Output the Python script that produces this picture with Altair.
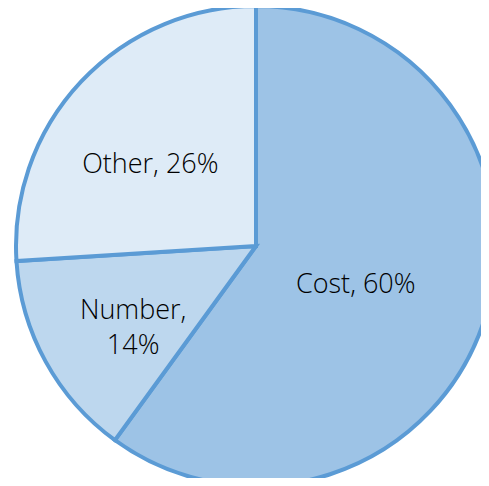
import altair as alt
import pandas as pd

categories = ["Cost", "Number", "Other"]
values = [60, 14, 26]
labels = ["Cost, 60%", "Number,\n14%", "Other, 26%"]
colors = ["#9DC3E6", "#BDD7EE", "#DEEBF7"]

df = pd.DataFrame({"category": categories, "value": values, "label": labels,
                   "idx": list(range(len(categories)))})

base = alt.Chart(df)

arcs = base.mark_arc(outerRadius=240, stroke="#5B9BD5", strokeWidth=4).encode(
    theta=alt.Theta("value:Q", stack=True),
    order=alt.Order("idx:Q"),
    color=alt.Color("category:N", scale=alt.Scale(domain=categories, range=colors), legend=None),
    x=alt.value(248),
    y=alt.value(238),
)

text_base = base.transform_window(
    cum="sum(value)", sort=[alt.SortField("idx")]
).transform_calculate(
    mid="datum.cum - datum.value / 2",
)

label_style = {
    "Cost": dict(radius=107, dx=-2, dy=6),
    "Number": dict(radius=147, dx=6, dy=-6),
    "Other": dict(radius=134, dx=-8, dy=11),
}

layers = [arcs]
for cat in categories:
    st = label_style[cat]
    layers.append(
        text_base.transform_filter(alt.datum.category == cat).mark_text(
            font="Open Sans", fontSize=27, fontWeight=300, color="#000000",
            lineBreak="\n", align="center", baseline="middle", lineHeight=35,
            radius=st["radius"], dx=st["dx"], dy=st["dy"],
        ).encode(
            theta=alt.Theta("mid:Q", stack=None),
            text="label:N",
            x=alt.value(248),
            y=alt.value(238),
        )
    )

chart = alt.layer(*layers).properties(
    width=473, height=470, padding=0,
    autosize=alt.AutoSizeParams(type="none"),
).configure_view(stroke=None)

chart.save("out.html", embed_options={"renderer": "svg", "actions": False})
